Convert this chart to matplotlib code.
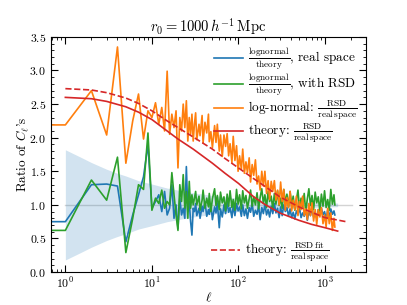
import numpy as np
import matplotlib
matplotlib.use("Agg")
import matplotlib.pyplot as plt
from matplotlib.ticker import AutoMinorLocator, LogLocator, NullFormatter

plt.rcParams['font.family'] = 'serif'
plt.rcParams['font.serif'] = ['cmr10']
plt.rcParams['mathtext.fontset'] = 'cm'
plt.rcParams['axes.formatter.use_mathtext'] = True
plt.rcParams['font.size'] = 9

# low multipoles, one value per ell (ell=0 repeats ell=1)
ell_low = list(range(0, 32))
orange_low = [2.19, 2.19, 2.70, 2.04, 3.35, 1.62, 2.25, 2.65, 1.98, 2.40, 2.30, 2.52, 2.20, 2.45, 2.10, 2.99,
              2.05, 2.35, 2.15, 2.40, 1.55, 2.30, 2.10, 2.50, 2.15, 2.55, 1.95, 2.30, 2.05, 2.35, 1.95, 2.20]
blue_low = [0.75, 0.75, 1.30, 1.31, 1.28, 0.45, 0.85, 1.15, 1.42, 1.90, 0.95, 1.05, 1.15, 0.90, 1.20, 0.85,
            0.95, 1.30, 0.80, 1.00, 0.65, 1.10, 0.85, 0.95, 0.80, 1.57, 0.90, 1.05, 0.75, 0.55, 0.95, 0.90]
green_low = [0.62, 0.62, 1.37, 1.07, 1.71, 0.29, 0.80, 1.30, 1.23, 2.07, 0.92, 1.10, 1.02, 1.22, 0.95, 1.05,
             1.00, 1.48, 1.15, 0.85, 0.62, 1.30, 1.05, 1.45, 0.95, 1.20, 0.80, 1.35, 0.95, 1.15, 1.00, 1.10]

# higher multipoles, thinned
ell_high = [32, 33, 35, 36, 38, 39, 41, 43, 45, 46, 48, 50, 53, 55, 57, 60, 62, 65, 68, 71, 74, 77, 80, 84,
            87, 91, 95, 99, 103, 108, 112, 117, 122, 127, 133, 138, 144, 150, 157, 164, 171, 178, 186, 194,
            202, 211, 220, 229, 239, 249, 260, 271, 283, 295, 307, 320, 334, 348, 363, 379, 395, 412, 429,
            448, 467, 487, 507, 529, 551, 575, 599, 625, 651, 679, 708, 738, 770, 802, 836, 872, 909, 948,
            988, 1030, 1074, 1120, 1167, 1217, 1269, 1300]
orange_high = [2.37, 1.97, 2.20, 2.03, 2.33, 1.92, 2.23, 2.07, 2.35, 1.94, 2.09, 1.85, 2.18, 1.93, 2.20,
               1.80, 2.04, 1.72, 2.04, 1.87, 2.06, 1.73, 1.91, 1.63, 2.02, 1.66, 1.88, 1.50, 1.73, 1.53,
               1.83, 1.47, 1.64, 1.48, 1.70, 1.34, 1.60, 1.44, 1.67, 1.31, 1.43, 1.22, 1.50, 1.28, 1.50,
               1.17, 1.36, 1.08, 1.35, 1.20, 1.36, 1.07, 1.22, 1.00, 1.34, 1.05, 1.23, 0.92, 1.11, 0.96,
               1.20, 0.91, 1.07, 0.93, 1.13, 0.84, 1.05, 0.93, 1.13, 0.84, 0.94, 0.78, 1.02, 0.84, 1.03,
               0.76, 0.93, 0.71, 0.93, 0.82, 0.96, 0.72, 0.85, 0.67, 0.95, 0.72, 0.88, 0.62, 0.80, 0.67]
blue_high = [1.02, 0.84, 0.95, 0.80, 0.98, 0.90, 1.05, 0.83, 0.93, 0.86, 1.01, 0.78, 0.97, 0.88, 1.03,
             0.66, 0.94, 0.82, 1.00, 0.87, 1.04, 0.89, 0.96, 0.81, 0.99, 0.84, 1.02, 0.91, 0.97, 0.83,
             1.00, 0.84, 0.94, 0.80, 0.96, 0.89, 1.03, 0.83, 0.92, 0.86, 0.99, 0.78, 0.96, 0.87, 1.01,
             0.85, 0.93, 0.82, 0.98, 0.87, 1.02, 0.88, 0.95, 0.81, 0.97, 0.84, 1.00, 0.90, 0.96, 0.83,
             0.94, 0.81, 0.89, 0.79, 0.91, 0.86, 0.96, 0.81, 0.88, 0.83, 0.93, 0.77, 0.91, 0.84, 0.95,
             0.82, 0.88, 0.80, 0.93, 0.84, 0.95, 0.85, 0.90, 0.79, 0.92, 0.81, 0.94, 0.86, 0.91, 0.85]
green_high = [1.20, 1.00, 1.13, 0.92, 1.07, 1.22, 0.95, 1.10, 0.97, 1.17, 0.90, 1.09, 1.24, 0.99, 1.14,
              0.93, 1.19, 1.03, 1.12, 0.91, 1.16, 0.98, 1.21, 0.96, 1.08, 0.92, 1.23, 1.01, 1.15, 0.94,
              1.21, 1.03, 1.14, 0.95, 1.09, 1.22, 0.98, 1.12, 1.00, 1.18, 0.94, 1.11, 1.24, 1.02, 1.15,
              0.96, 1.20, 1.05, 1.13, 0.94, 1.17, 1.01, 1.21, 0.99, 1.10, 0.95, 1.23, 1.03, 1.16, 0.97,
              1.20, 1.00, 1.13, 0.92, 1.07, 1.22, 0.95, 1.10, 0.97, 1.17, 0.90, 1.09, 1.24, 0.99, 1.14,
              0.93, 1.19, 1.03, 1.12, 0.91, 1.16, 0.98, 1.21, 0.96, 1.08, 0.92, 1.23, 1.01, 1.15, 1.00]

# theory curves
th_ell = [1, 2, 3, 5, 7, 10, 15, 20, 30, 50, 70, 100, 150, 200, 300, 500, 700, 1000, 1400]
th_rsd = [2.60, 2.58, 2.54, 2.46, 2.38, 2.27, 2.10, 1.98, 1.83, 1.62, 1.47, 1.32, 1.12, 1.01, 0.88,
          0.77, 0.71, 0.66, 0.61]
fit_ell = [1, 2, 3, 5, 7, 10, 15, 20, 30, 50, 70, 100, 150, 200, 300, 500, 700, 1000, 1750]
th_fit = [2.73, 2.71, 2.67, 2.59, 2.51, 2.40, 2.25, 2.15, 2.01, 1.83, 1.69, 1.55, 1.39, 1.28, 1.12,
          0.97, 0.89, 0.81, 0.75]

# cosmic variance band
band_ell = [1, 1.5, 2, 3, 4, 5, 7, 10, 15, 20, 30, 50, 70, 100, 200, 300, 500, 1000, 1400]
band_hi = [1.82, 1.71, 1.63, 1.53, 1.47, 1.43, 1.36, 1.31, 1.25, 1.22, 1.18, 1.14, 1.12, 1.10, 1.07,
           1.058, 1.045, 1.032, 1.027]
band_lo = [0.18, 0.29, 0.37, 0.47, 0.53, 0.57, 0.64, 0.69, 0.75, 0.78, 0.82, 0.86, 0.88, 0.90, 0.93,
           0.942, 0.955, 0.968, 0.973]

unity_ell = [1, 2048]
unity_val = [1.0, 1.0]

ell = ell_low + ell_high
blue = blue_low + blue_high
green = green_low + green_high
orange = orange_low + orange_high

fig, ax = plt.subplots(figsize=(4.07, 3.05), dpi=100)

ax.plot(unity_ell, unity_val, color='lightgray', lw=1.0, zorder=1)
ax.fill_between(band_ell, band_lo, band_hi, color='C0', alpha=0.2, lw=0, zorder=1)

l1, = ax.plot(ell, blue, color='C0', lw=1.2,
              label=r'$\frac{\mathrm{lognormal}}{\mathrm{theory}}$, real space')
l2, = ax.plot(ell, green, color='C2', lw=1.2,
              label=r'$\frac{\mathrm{lognormal}}{\mathrm{theory}}$, with RSD')
l3, = ax.plot(ell, orange, color='C1', lw=1.2,
              label=r'log-normal: $\frac{\mathrm{RSD}}{\mathrm{real\,space}}$')
l4, = ax.plot(th_ell, th_rsd, color='C3', lw=1.2,
              label=r'theory: $\frac{\mathrm{RSD}}{\mathrm{real\,space}}$')
l5, = ax.plot(fit_ell, th_fit, color='C3', lw=1.2, ls='--',
              label=r'theory: $\frac{\mathrm{RSD\,fit}}{\mathrm{real\,space}}$')

ax.set_xscale('log')
ax.set_xlim(0.68, 3000)
ax.set_ylim(0, 3.5)
ax.set_xlabel(r'$\ell$', fontsize=9.5, labelpad=0)
ax.set_ylabel(r"Ratio of $C_\ell$'s", fontsize=9.5, labelpad=-1)
ax.set_title(r'$r_0 = 1000\,h^{-1}\,\mathrm{Mpc}$', fontsize=10.5, pad=4)

ax.yaxis.set_minor_locator(AutoMinorLocator(5))
ax.xaxis.set_minor_locator(LogLocator(base=10, subs=np.arange(2, 10)))
ax.xaxis.set_minor_formatter(NullFormatter())
ax.tick_params(which='both', direction='in', top=True, right=True, labelsize=8.5)
ax.tick_params(axis='x', which='major', pad=2.5)
ax.tick_params(which='major', length=5)
ax.tick_params(which='minor', length=2.5)

leg1 = ax.legend(handles=[l1, l2, l3, l4], loc='upper right', frameon=False, fontsize=9.5,
                 labelspacing=0.0, handlelength=2.2, handletextpad=0.35, borderaxespad=0.3)
ax.add_artist(leg1)
ax.legend(handles=[l5], loc='lower left', bbox_to_anchor=(0.47, -0.015), frameon=False, fontsize=9.5,
          handlelength=2.2, handletextpad=0.35)

fig.subplots_adjust(left=0.125, right=0.9, bottom=0.108, top=0.879)
fig.savefig('out.png', dpi=100)
